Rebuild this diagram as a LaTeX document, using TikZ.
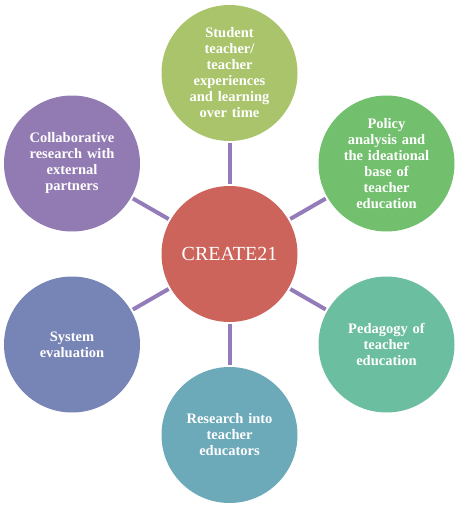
\documentclass[tikz,border=0pt]{standalone}
\usepackage{fontspec}
\setmainfont{Liberation Serif}
\definecolor{hubred}{RGB}{205, 100, 92}
\definecolor{learngreen}{RGB}{170, 196, 108}
\definecolor{policygreen}{RGB}{114, 192, 110}
\definecolor{pedagreen}{RGB}{108, 190, 160}
\definecolor{eduteal}{RGB}{108, 170, 186}
\definecolor{evalblue}{RGB}{118, 132, 182}
\definecolor{collabpurple}{RGB}{146, 122, 178}
\definecolor{spokeviolet}{RGB}{148, 124, 186}
\usetikzlibrary{positioning}
\tikzstyle{topic} = [circle, minimum size=136pt, inner sep=0pt, text=white,
                     font=\fontsize{14.5}{16}\selectfont\bfseries, align=center, text width=94pt]
\tikzstyle{hub} = [circle, fill=hubred, minimum size=136pt, inner sep=0pt, text=white,
                   font=\fontsize{20}{24}\selectfont]
\tikzstyle{spoke} = [draw=spokeviolet, line width=4pt, shorten >=2pt, shorten <=2pt]

\begin{document}
\begin{tikzpicture}[x=1pt, y=-1pt]
    \useasboundingbox (0,0) rectangle (459,509);
    \node[hub] (create) at (229.5, 254) {CREATE21};
    \node[topic, fill=learngreen] (learning) at (229.5, 73) {Student\\teacher/\\teacher\\experiences\\and learning\\over time};
    \node[topic, fill=policygreen] (policy) at (386.5, 163.5) {Policy\\analysis and\\the ideational\\base of\\teacher\\education};
    \node[topic, fill=pedagreen] (pedagogy) at (386.5, 344.5) {Pedagogy of\\teacher\\education};
    \node[topic, fill=eduteal] (educators) at (229.5, 435) {Research into\\teacher\\educators};
    \node[topic, fill=evalblue] (evaluation) at (72, 344.5) {System\\evaluation};
    \node[topic, fill=collabpurple] (partners) at (72, 163.5) {Collaborative\\research with\\external\\partners};
    % spokes from the hub
    \foreach \outer in {learning, policy, pedagogy, educators, evaluation, partners}
        \draw[spoke] (create) -- (\outer);
\end{tikzpicture}
\end{document}
